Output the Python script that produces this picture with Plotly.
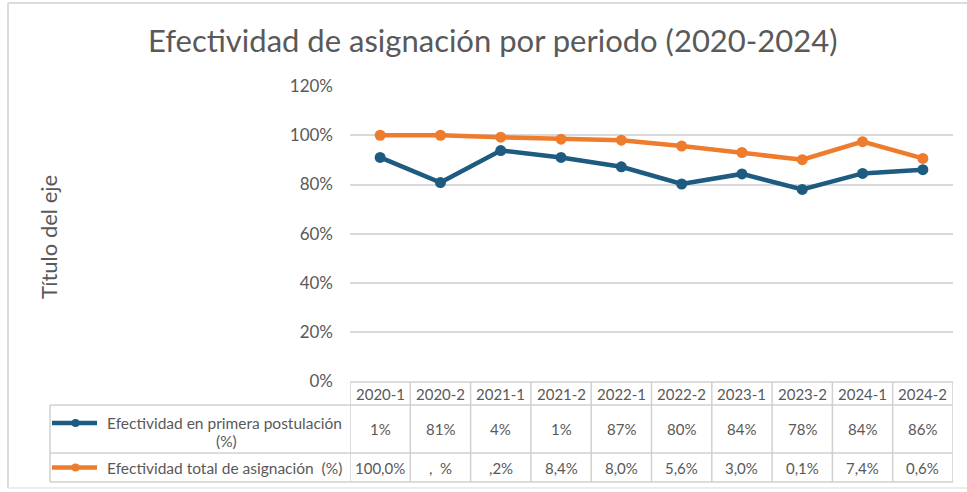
import plotly.graph_objects as go

periods = ["2020-1", "2020-2", "2021-1", "2021-2", "2022-1", "2022-2", "2023-1", "2023-2", "2024-1", "2024-2"]
primera = [91.0, 80.8, 93.8, 91.0, 87.2, 80.2, 84.3, 78.0, 84.5, 86.0]
total = [100.0, 100.0, 99.2, 98.4, 98.0, 95.6, 93.0, 90.1, 97.4, 90.6]
primera_txt = ["1%", "81%", "4%", "1%", "87%", "80%", "84%", "78%", "84%", "86%"]
total_txt = ["100,0%", ",  %", ",2%", "8,4%", "8,0%", "5,6%", "3,0%", "0,1%", "7,4%", "0,6%"]
name1 = "Efectividad en primera postulación<br>(%)"
name2 = "Efectividad total de asignación  (%)"
yticks = [0, 20, 40, 60, 80, 100, 120]

W, H = 967, 492
BLUE = "#1d5c80"
ORANGE = "#ef7b2d"
GRID = "#d9d9d9"
TXT = "#595959"
FONT = "Lato"

def px(x):
    return x / W

def py(y):
    return 1 - y / H

fig = go.Figure()
fig.add_trace(go.Scatter(x=list(range(len(periods))), y=primera, mode="lines+markers",
                         line=dict(color=BLUE, width=4.5), marker=dict(size=11, color=BLUE),
                         name=name1, showlegend=False))
fig.add_trace(go.Scatter(x=list(range(len(periods))), y=total, mode="lines+markers",
                         line=dict(color=ORANGE, width=4.5), marker=dict(size=11, color=ORANGE),
                         name=name2, showlegend=False))

plot_left, plot_right = 350, 953
y0_px, y120_px = 381.5, 86

fig.update_layout(
    width=W, height=H, margin=dict(l=0, r=0, t=0, b=0, autoexpand=False),
    paper_bgcolor="white", plot_bgcolor="white", showlegend=False,
    font=dict(family=FONT, color=TXT),
    xaxis=dict(domain=[px(plot_left), px(plot_right)], range=[-0.5, len(periods) - 0.5],
               showticklabels=False, showgrid=False, zeroline=False, fixedrange=True, automargin=False),
    yaxis=dict(domain=[py(y0_px), py(y120_px)], range=[0, 120], tickvals=yticks,
               ticktext=[f"{v}%" for v in yticks], ticklabelstandoff=16, automargin=False,
               tickfont=dict(size=17, color=TXT, family=FONT),
               showgrid=True, gridcolor=GRID, gridwidth=1.5, zeroline=False,
               showline=False, ticks=""),
)

shapes = []
annos = []
LC = "#d0d0d0"
TF = 15
# outer frame
shapes.append(dict(type="line", xref="paper", yref="paper", x0=px(8), x1=px(8), y0=py(3), y1=py(488), line=dict(color="#dcdcdc", width=2)))
shapes.append(dict(type="line", xref="paper", yref="paper", x0=px(8), x1=1.0, y0=py(3), y1=py(3), line=dict(color="#dcdcdc", width=2)))
shapes.append(dict(type="line", xref="paper", yref="paper", x0=px(8), x1=1.0, y0=py(488), y1=py(488), line=dict(color="#e6e6e6", width=1.5)))

# table lines
row_top, row1, row2, row3 = 382, 405, 453, 482
tbl_left = 50
shapes.append(dict(type="line", xref="x", yref="paper", x0=-0.5, x1=len(periods) - 0.5, y0=py(row_top), y1=py(row_top), line=dict(color=LC, width=1.5)))
for yy in (row1, row2, row3):
    shapes.append(dict(type="line", xref="paper", yref="paper", x0=px(tbl_left), x1=px(plot_right), y0=py(yy), y1=py(yy), line=dict(color=LC, width=1.5)))
shapes.append(dict(type="line", xref="paper", yref="paper", x0=px(tbl_left), x1=px(tbl_left), y0=py(row1), y1=py(row3), line=dict(color=LC, width=1.5)))
for i in range(len(periods) + 1):
    shapes.append(dict(type="line", xref="x", yref="paper", x0=i - 0.5, x1=i - 0.5, y0=py(row_top), y1=py(row3), line=dict(color=LC, width=1.5)))

# table text
for i, p in enumerate(periods):
    annos.append(dict(x=i, y=py((row_top + row1) / 2), xref="x", yref="paper", text=p, showarrow=False,
                      font=dict(size=TF, color=TXT, family=FONT), xanchor="center", yanchor="middle"))
    annos.append(dict(x=i, y=py((row1 + row2) / 2), xref="x", yref="paper", text=primera_txt[i], showarrow=False,
                      font=dict(size=TF, color=TXT, family=FONT), xanchor="center", yanchor="middle"))
    annos.append(dict(x=i, y=py((row2 + row3) / 2), xref="x", yref="paper", text=total_txt[i], showarrow=False,
                      font=dict(size=TF, color=TXT, family=FONT), xanchor="center", yanchor="middle"))

# legend keys
for color, ymid in ((BLUE, 423), (ORANGE, 467.5)):
    shapes.append(dict(type="line", xref="paper", yref="paper", x0=px(52), x1=px(97), y0=py(ymid), y1=py(ymid), line=dict(color=color, width=4.5)))
    shapes.append(dict(type="circle", xref="paper", yref="paper", x0=px(71.5), x1=px(79.5), y0=py(ymid + 4), y1=py(ymid - 4), fillcolor=color, line=dict(color=color, width=0)))

annos.append(dict(x=px(105), y=py(423), xref="paper", yref="paper", text="Efectividad en primera postulación", showarrow=False,
                  font=dict(size=15.5, color=TXT, family=FONT), xanchor="left", yanchor="middle"))
annos.append(dict(x=px(226), y=py(441), xref="paper", yref="paper", text="(%)", showarrow=False,
                  font=dict(size=15.5, color=TXT, family=FONT), xanchor="center", yanchor="middle"))
annos.append(dict(x=px(105), y=py(467.5), xref="paper", yref="paper", text=name2.replace("  ", " &nbsp;"), showarrow=False,
                  font=dict(size=15.5, color=TXT, family=FONT), xanchor="left", yanchor="middle"))

# title and axis title
annos.append(dict(x=px(493), y=py(40), xref="paper", yref="paper", text="Efectividad de asignación por periodo (2020-2024)", showarrow=False,
                  font=dict(size=31, color=TXT, family=FONT), xanchor="center", yanchor="middle"))
annos.append(dict(x=px(48), y=py(237), xref="paper", yref="paper", text="Título del eje", showarrow=False, textangle=-90,
                  font=dict(size=22, color=TXT, family=FONT), xanchor="center", yanchor="middle"))

fig.update_layout(shapes=shapes, annotations=annos)
fig.write_html("out.html", config={"displayModeBar": False},
               post_script="document.body.style.margin='0px';document.body.style.overflow='hidden';")
